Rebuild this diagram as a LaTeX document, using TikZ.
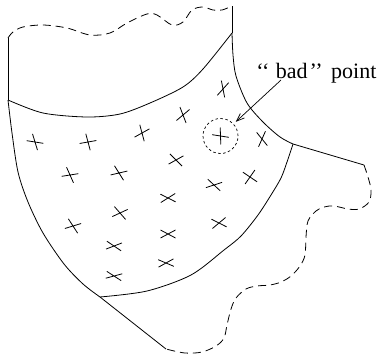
\documentclass[tikz,border=0pt]{standalone}
\usepackage{fontspec}
\setmainfont{Liberation Serif}
\usetikzlibrary{arrows.meta}
\tikzset{
  solidedge/.style={line width=0.8pt, line join=round},
  dashedge/.style={line width=0.8pt, dash pattern=on 8pt off 5pt},
  crossmark/.style={line width=0.8pt},
  badring/.style={circle, draw, line width=0.7pt, dash pattern=on 2.5pt off 2.5pt, minimum size=35pt, inner sep=0pt},
  lbltext/.style={anchor=base west, inner sep=0pt, font=\fontsize{22pt}{26pt}\selectfont},
  pointer/.style={line width=0.7pt, -{Straight Barb[length=8pt,width=6pt]}, shorten >=3pt}
}
\begin{document}
\begin{tikzpicture}[x=1pt,y=-1pt]
\useasboundingbox (0,0) rectangle (382,356);
% corner points
\coordinate (A) at (8,38);
\coordinate (B) at (8,100);
\coordinate (C) at (232,6);
\coordinate (D) at (232,33);
\coordinate (E) at (293,144);
\coordinate (F) at (364,165);
\coordinate (G) at (166,349);
\coordinate (H) at (100,297);
% straight edges
\draw[solidedge] (A) -- (B);
\draw[solidedge] (C) -- (D);
\draw[solidedge] (E) -- (F);
\draw[solidedge] (G) -- (H);
% arcs
\draw[solidedge] plot[smooth, tension=0.5] coordinates {(B) (12,133) (18,172) (28,202) (43,233) (64,264) (83,284) (H)};
\draw[solidedge] plot[smooth, tension=0.5] coordinates {(B) (43,113) (87,117) (120,114) (150,103) (183,87) (203,69) (D)};
\draw[solidedge] plot[smooth, tension=0.5] coordinates {(D) (233,55) (236,76) (247,103) (263,122) (280,137) (E)};
\draw[solidedge] plot[smooth, tension=0.5] coordinates {(H) (147,291) (191,275) (224,250) (241,236) (258,215) (271,195) (281,178) (287,162) (E)};
% dashed borders
\draw[dashedge] plot[smooth, tension=0.55] coordinates {(A) (13,32) (23,27) (43,25) (67,28) (90,35) (110,33) (127,23) (147,14) (157,15) (172,25) (183,22) (192,10) (203,7) (213,10) (222,10) (C)};
\draw[dashedge] plot[smooth, tension=0.55] coordinates {(F) (368,177) (371,190) (369,202) (359,209) (348,209) (334,206) (324,207) (316,211) (308,221) (306,237) (305,255) (300,266) (291,276) (281,282) (270,285) (257,286) (246,289) (236,298) (231,309) (227,325) (224,338) (216,346) (202,352) (185,353) (G)};
% crosses
\foreach \x/\y/\a/\b in {35/142/9/73, 88/142/-10/75, 142/133/-29/75, 183/115/-40/69,
  223/89/-48/79, 70/175/-9/66, 119/173/-13/58, 176/160/-29/45, 220.5/136/9/88,
  262/139/51/-66, 168/198/27/-32, 250/177/34/-55, 214/185/-18/43, 73/226/-17/57,
  120/213/-25/49, 168/234/-28/28, 219/223/27/-40, 114/246/-21/34, 166/263/23/-29,
  114/276/-15/33}
  \draw[crossmark] (\x,\y) +(\a:8.5) -- +(\a+180:8.5) +(\b:8.5) -- +(\b+180:8.5);
% bad point
\node[badring] (bad) at (220.5,136) {};
\node[lbltext] (lbl) at (256.2,78) {‘‘\kern6.5pt bad\kern2pt’’\kern8.5pt point};
\coordinate (tail) at (281,80);
\draw[pointer] (tail) -- (bad);
\end{tikzpicture}
\end{document}
